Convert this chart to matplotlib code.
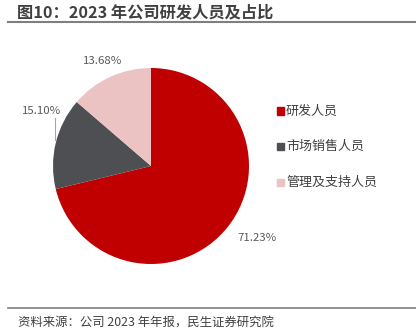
import matplotlib.pyplot as plt
from matplotlib.patches import Rectangle

plt.rcParams['font.family'] = ['Noto Sans CJK SC', 'DejaVu Sans']

categories = ['研发人员', '市场销售人员', '管理及支持人员']
shares = [71.23, 15.10, 13.68]
colors = ['#C00000', '#4D4F53', '#EBC3C3']
title = '图10：2023 年公司研发人员及占比'
source = '资料来源：公司 2023 年年报，民生证券研究院'

W, H = 416, 330


def main():
    fig = plt.figure(figsize=(W / 100, H / 100), dpi=100)

    # title + rules
    fig.text(17 / W, 1 - 12 / H, title, fontsize=11.7, fontweight='bold',
             color='#404040', va='center', ha='left')
    fig.add_artist(plt.Line2D([8 / W, 1], [1 - 22 / H] * 2, color='#7F7F7F', lw=1.5))
    fig.add_artist(plt.Line2D([8 / W, 1], [1 - 308 / H] * 2, color='#7F7F7F', lw=1.2))
    fig.text(18 / W, 1 - 322 / H, source, fontsize=8.9, color='#404040',
             va='center', ha='left')

    # pie
    cx, cy, r = 151, 166, 98
    ax = fig.add_axes([(cx - r) / W, 1 - (cy + r) / H, 2 * r / W, 2 * r / H])
    ax.pie(shares, colors=colors, startangle=90, counterclock=False,
           wedgeprops=dict(linewidth=0))
    ax.set_xlim(-1, 1)
    ax.set_ylim(-1, 1)
    ax.set_aspect('auto')

    lab_style = dict(fontsize=8.2, color='#595959', ha='center', va='center')
    pos = [(257, 238), (42, 111), (103, 61)]
    for s, (px, py) in zip(shares, pos):
        ax.text((px - cx) / r, (cy - py) / r, f'{s:.2f}%', **lab_style)
    ax.plot([(55 - cx) / r] * 2, [(cy - 118) / r, (cy - 140) / r],
            color='#A6A6A6', lw=0.8, clip_on=False)

    # legend
    ys = [111, 146, 182]
    for c, name, y in zip(colors, categories, ys):
        fig.add_artist(Rectangle(((280 - 3.5) / W, 1 - (y + 3.5) / H), 7 / W, 7 / H,
                                 color=c, transform=fig.transFigure))
        fig.text(286 / W, 1 - y / H, name, fontsize=9.4, color='#404040',
                 va='center', ha='left')

    fig.savefig('out.png', dpi=100)


if __name__ == '__main__': main()
